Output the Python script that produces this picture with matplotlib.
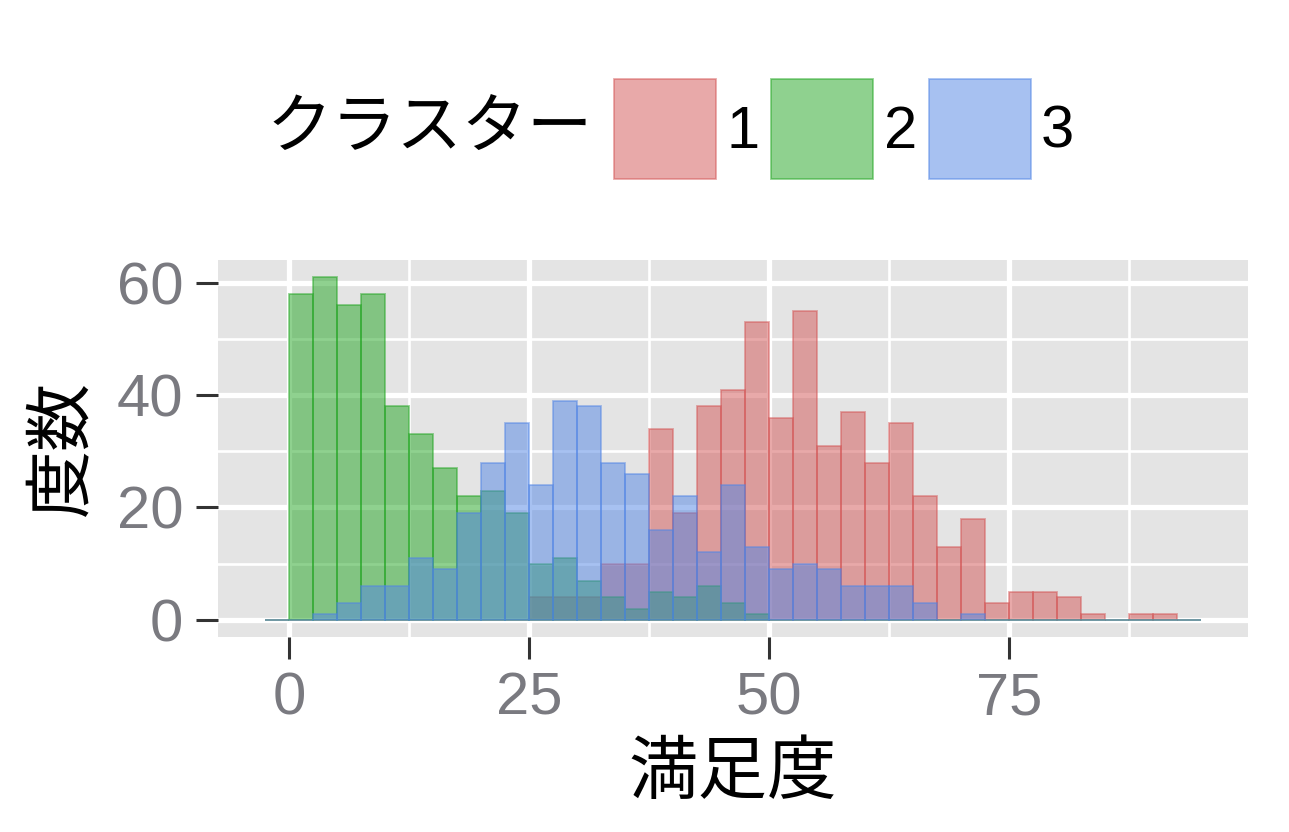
import numpy as np
import matplotlib
matplotlib.use("Agg")
import matplotlib.pyplot as plt
from matplotlib.patches import Patch

# ---- data ----
bin_width = 2.5
bin_left = [-2.5 + 2.5 * i for i in range(39)]          # -2.5 ... 92.5
clusters = ["1", "2", "3"]
colors = ["#D35555", "#21A521", "#5185E5"]

# counts per bin (left edges -2.5, 0, 2.5, ..., 92.5)
counts_1 = [0, 0, 0, 0, 0, 0, 0, 0, 0, 0, 0,
            4, 4, 4, 10, 10, 34, 19, 38, 41, 53, 36, 55, 31, 37, 28, 35, 22, 13, 18,
            3, 5, 5, 4, 1, 0, 1, 1, 0]
counts_2 = [0, 58, 61, 56, 58, 38, 33, 27, 22, 23, 19, 10, 11, 7, 4, 2, 5, 4, 6, 3, 1,
            0, 0, 0, 0, 0, 0, 0, 0, 0, 0, 0, 0, 0, 0, 0, 0, 0, 0]
counts_3 = [0, 0, 1, 3, 6, 6, 11, 9, 19, 28, 35, 24, 39, 38, 28, 26, 16, 22, 12, 24, 13,
            9, 10, 9, 6, 6, 6, 3, 0, 1, 0, 0, 0, 0, 0, 0, 0, 0, 0]
series = [counts_1, counts_2, counts_3]

x_ticks = [0, 25, 50, 75]
y_ticks = [0, 20, 40, 60]

jp = ["Noto Sans CJK JP", "DejaVu Sans"]
num = ["Liberation Sans", "DejaVu Sans"]

fig = plt.figure(figsize=(12.89, 8.32), dpi=100)
W, H = 1289, 832
ax = fig.add_axes([218 / W, 1 - 637 / H, (1248 - 218) / W, (637 - 260) / H])
ax.set_facecolor("#E4E4E4")

handles = []
for cnt, col, lab in zip(series, colors, clusters):
    ax.bar(bin_left, cnt, width=bin_width, align="edge", color=col, alpha=0.5,
           edgecolor=col, linewidth=1.3, zorder=3)
    handles.append(Patch(facecolor=col, edgecolor=col, alpha=0.5, linewidth=1.3, label=lab))

xmin, xmax = bin_left[0], bin_left[-1] + bin_width
xr = xmax - xmin
ax.set_xlim(xmin - 0.05 * xr, xmax + 0.05 * xr)
ymax = max(max(s) for s in series)
ax.set_ylim(-0.05 * ymax, ymax * 1.05)

ax.set_xticks(x_ticks)
ax.set_yticks(y_ticks)
ax.set_xticks([12.5, 37.5, 62.5, 87.5], minor=True)
ax.set_yticks([10, 30, 50], minor=True)
ax.grid(which="major", color="white", linewidth=3.8, zorder=0)
ax.grid(which="minor", color="white", linewidth=1.9, zorder=0)
ax.set_axisbelow(True)
for s in ax.spines.values():
    s.set_visible(False)
ax.tick_params(which="major", direction="out", length=16, width=2.2, color="#333333",
               pad=9, labelsize=43, labelcolor="#7A7A80")
ax.tick_params(which="minor", length=0)
for t in ax.get_xticklabels() + ax.get_yticklabels():
    t.set_fontfamily(num)

# axis titles
fig.text(733 / W, 1 - 773 / H, "満足度", fontsize=50, family=jp, ha="center", va="center")
fig.text(62 / W, 1 - 448 / H, "度数", fontsize=49, family=jp, ha="center", va="center",
         rotation=90)

# legend
fig.text(267 / W, 1 - 130 / H, "クラスター", fontsize=47, family=jp, ha="left", va="center")
leg = fig.legend(handles=handles, loc="center left", bbox_to_anchor=(614 / W, 1 - 129 / H),
                 ncol=3, frameon=False, prop={"family": num, "size": 43},
                 handlelength=1.71, handleheight=2.19, handletextpad=0.17,
                 columnspacing=0.2, borderpad=0, borderaxespad=0)

fig.savefig("out.png", dpi=100)
